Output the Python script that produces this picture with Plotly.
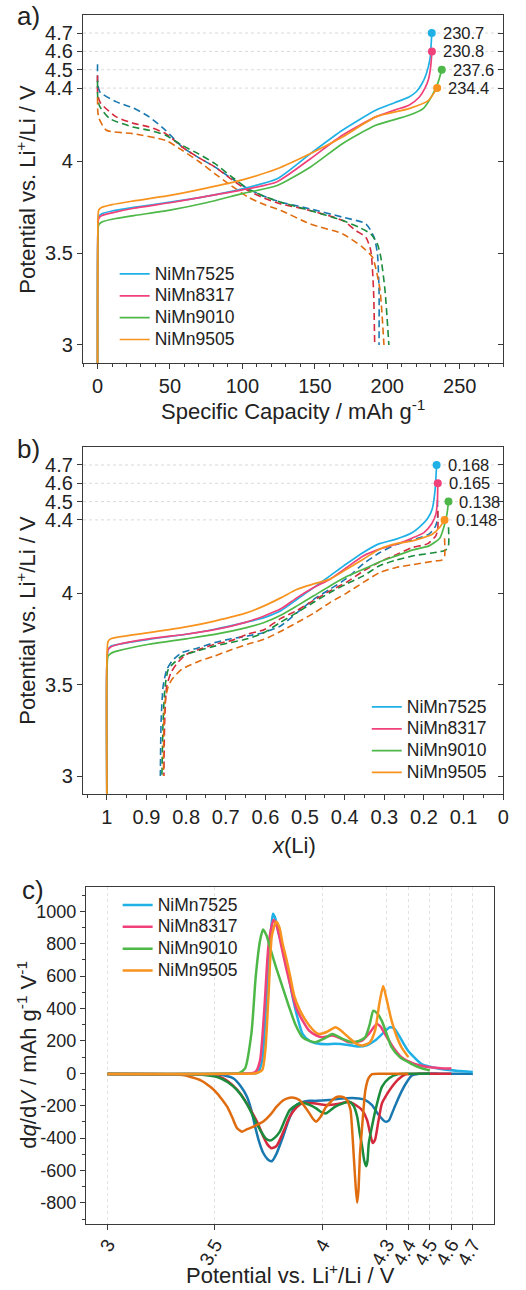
import plotly.graph_objects as go

W, H = 526, 1290
FONT = "Arial, Liberation Sans, sans-serif"

names = ["NiMn7525", "NiMn8317", "NiMn9010", "NiMn9505"]
c_bright = ["#1fb0e6", "#f0417a", "#4db848", "#f7931e"]
c_dark = ["#1a78b0", "#d42a3c", "#1a8c3c", "#e06c10"]

# ---------------- panel a: capacity (mAh/g) vs potential ----------------
cap_end = [230.7, 230.8, 237.6, 234.4]
v_end = [4.7, 4.6, 4.5, 4.4]

a_ch_q = [
    [0, 0.2, 0.8, 3, 10, 25, 50, 75, 100, 124, 147, 169, 192, 205, 215, 220, 224, 227, 229.5, 230.7],
    [0, 0.2, 0.8, 3, 10, 25, 50, 75, 100, 124, 147, 169, 192, 205, 215, 222, 226, 228.5, 230, 230.8],
    [0, 0.2, 0.8, 3, 10, 25, 50, 75, 100, 124, 147, 169, 192, 215, 225, 231, 235, 237.6],
    [0, 0.2, 0.8, 3, 10, 25, 50, 75, 100, 124, 147, 169, 192, 215, 228, 234.4],
]
a_ch_v = [
    [2.9, 3.6, 3.70, 3.715, 3.73, 3.75, 3.778, 3.81, 3.851, 3.906, 4.043, 4.17, 4.279, 4.32, 4.352, 4.38, 4.425, 4.48, 4.56, 4.7],
    [2.9, 3.6, 3.69, 3.705, 3.72, 3.745, 3.775, 3.81, 3.845, 3.89, 4.015, 4.143, 4.243, 4.28, 4.307, 4.35, 4.40, 4.45, 4.52, 4.6],
    [2.9, 3.55, 3.655, 3.67, 3.685, 3.705, 3.735, 3.775, 3.825, 3.869, 3.97, 4.097, 4.197, 4.252, 4.29, 4.36, 4.43, 4.5],
    [2.9, 3.6, 3.735, 3.75, 3.765, 3.785, 3.815, 3.855, 3.9, 3.96, 4.043, 4.133, 4.243, 4.288, 4.33, 4.4],
]
a_dis_q = [
    [0, 0.2, 1.6, 13, 25, 35.7, 47, 58.4, 70, 81.1, 92, 103.9, 115, 126.6, 146.6, 169.3, 185.2, 190.9, 193.2, 194.3, 194.3],
    [0, 0.2, 2.3, 13, 24, 35.7, 47, 58.4, 70, 81.1, 92, 103.9, 115, 126.6, 146.6, 169.3, 178.4, 185.2, 188.6, 190.5, 191.3],
    [0, 0.2, 1.5, 8.4, 24.3, 35.7, 47, 58.4, 70, 81.1, 92, 103.9, 115, 126.6, 146.6, 169.3, 180.6, 188.6, 193.2, 195.5, 198.4, 201.1],
    [0, 0.2, 1, 6.1, 24.3, 47, 58.4, 70, 81.1, 92, 103.9, 115, 126.6, 146.6, 169.3, 183, 189.8, 192, 195, 197.7],
]
a_dis_v = [
    [4.53, 4.42, 4.379, 4.325, 4.29, 4.243, 4.17, 4.079, 4.02, 3.97, 3.91, 3.851, 3.81, 3.778, 3.742, 3.696, 3.66, 3.587, 3.496, 3.3, 3.0],
    [4.47, 4.36, 4.316, 4.243, 4.21, 4.188, 4.152, 4.079, 4.02, 3.97, 3.905, 3.842, 3.80, 3.769, 3.733, 3.678, 3.623, 3.587, 3.514, 3.3, 3.0],
    [4.44, 4.34, 4.30, 4.234, 4.188, 4.17, 4.143, 4.088, 4.04, 3.988, 3.92, 3.851, 3.81, 3.778, 3.733, 3.678, 3.641, 3.605, 3.55, 3.48, 3.3, 3.0],
    [4.35, 4.27, 4.235, 4.17, 4.152, 4.115, 4.061, 4.0, 3.933, 3.87, 3.806, 3.765, 3.733, 3.66, 3.605, 3.532, 3.478, 3.42, 3.3, 3.0],
]

# ---------------- panel b: x(Li) vs potential ----------------
x_end = [0.168, 0.165, 0.138, 0.148]
b_ch_x = [
    [1.0, 1.0, 0.997, 0.99, 0.97, 0.894, 0.80, 0.728, 0.65, 0.603, 0.56, 0.52, 0.478, 0.437, 0.395, 0.353, 0.312, 0.27, 0.23, 0.212, 0.19, 0.179, 0.172, 0.168],
    [1.0, 1.0, 0.997, 0.99, 0.97, 0.894, 0.80, 0.728, 0.65, 0.603, 0.56, 0.52, 0.478, 0.437, 0.395, 0.353, 0.312, 0.27, 0.23, 0.20, 0.18, 0.17, 0.166, 0.165],
    [1.0, 1.0, 0.997, 0.99, 0.97, 0.894, 0.80, 0.728, 0.65, 0.603, 0.56, 0.52, 0.478, 0.437, 0.395, 0.353, 0.312, 0.27, 0.23, 0.187, 0.16, 0.15, 0.142, 0.138],
    [1.0, 1.0, 0.997, 0.99, 0.97, 0.894, 0.80, 0.728, 0.65, 0.603, 0.56, 0.52, 0.478, 0.437, 0.395, 0.353, 0.312, 0.27, 0.229, 0.179, 0.16, 0.148],
]
b_ch_v = [
    [2.9, 3.6, 3.69, 3.71, 3.72, 3.747, 3.775, 3.802, 3.84, 3.866, 3.905, 3.966, 4.03, 4.094, 4.16, 4.222, 4.27, 4.295, 4.33, 4.359, 4.41, 4.46, 4.56, 4.7],
    [2.9, 3.6, 3.69, 3.705, 3.72, 3.75, 3.775, 3.80, 3.84, 3.875, 3.915, 3.975, 4.03, 4.076, 4.14, 4.203, 4.24, 4.267, 4.30, 4.33, 4.38, 4.43, 4.5, 4.6],
    [2.9, 3.55, 3.655, 3.67, 3.685, 3.72, 3.75, 3.774, 3.81, 3.839, 3.88, 3.93, 3.985, 4.039, 4.09, 4.13, 4.17, 4.203, 4.235, 4.258, 4.30, 4.359, 4.43, 4.5],
    [2.9, 3.6, 3.735, 3.75, 3.76, 3.784, 3.815, 3.847, 3.89, 3.93, 3.975, 4.021, 4.05, 4.076, 4.13, 4.185, 4.24, 4.27, 4.285, 4.322, 4.36, 4.4],
]
b_dis_x = [
    [0.166, 0.166, 0.172, 0.187, 0.23, 0.27, 0.312, 0.353, 0.395, 0.437, 0.478, 0.52, 0.562, 0.603, 0.645, 0.686, 0.728, 0.77, 0.811, 0.835, 0.849, 0.858, 0.863, 0.865],
    [0.165, 0.165, 0.17, 0.19, 0.229, 0.27, 0.312, 0.353, 0.395, 0.437, 0.478, 0.52, 0.562, 0.603, 0.645, 0.686, 0.728, 0.77, 0.803, 0.825, 0.838, 0.849, 0.854, 0.856],
    [0.138, 0.138, 0.145, 0.162, 0.229, 0.27, 0.312, 0.353, 0.395, 0.437, 0.478, 0.52, 0.562, 0.603, 0.645, 0.686, 0.728, 0.77, 0.811, 0.83, 0.845, 0.853, 0.858, 0.861],
    [0.148, 0.148, 0.155, 0.17, 0.229, 0.27, 0.312, 0.353, 0.395, 0.437, 0.478, 0.52, 0.562, 0.603, 0.645, 0.686, 0.728, 0.77, 0.811, 0.835, 0.845, 0.852, 0.856, 0.857],
]
b_dis_v = [
    [4.51, 4.40, 4.36, 4.322, 4.29, 4.265, 4.22, 4.16, 4.08, 4.021, 3.966, 3.893, 3.82, 3.785, 3.765, 3.75, 3.729, 3.70, 3.674, 3.63, 3.58, 3.49, 3.3, 3.0],
    [4.45, 4.35, 4.313, 4.27, 4.249, 4.21, 4.17, 4.12, 4.06, 4.012, 3.96, 3.905, 3.86, 3.80, 3.775, 3.74, 3.72, 3.69, 3.66, 3.61, 3.565, 3.49, 3.3, 3.0],
    [4.36, 4.26, 4.235, 4.225, 4.203, 4.18, 4.149, 4.094, 4.05, 4.003, 3.95, 3.893, 3.84, 3.784, 3.75, 3.73, 3.71, 3.685, 3.656, 3.62, 3.583, 3.49, 3.3, 3.0],
    [4.30, 4.2, 4.18, 4.176, 4.155, 4.14, 4.112, 4.058, 4.0, 3.948, 3.89, 3.839, 3.79, 3.747, 3.72, 3.69, 3.656, 3.625, 3.583, 3.53, 3.491, 3.42, 3.3, 3.0],
]

# ---------------- panel c: dq/dV ----------------
c_ch_v = [
    [3.0, 3.3, 3.6, 3.68, 3.70, 3.72, 3.735, 3.75, 3.762, 3.77, 3.78, 3.795, 3.816, 3.84, 3.862, 3.885, 3.908, 3.94, 3.969, 4.02, 4.061, 4.12, 4.168, 4.21, 4.245, 4.28, 4.314, 4.335, 4.352, 4.375, 4.398, 4.43, 4.46, 4.51, 4.567, 4.64, 4.7],
    [3.0, 3.3, 3.6, 3.67, 3.69, 3.71, 3.73, 3.75, 3.773, 3.79, 3.81, 3.831, 3.855, 3.877, 3.91, 3.938, 3.97, 4.0, 4.046, 4.09, 4.122, 4.16, 4.184, 4.22, 4.253, 4.27, 4.291, 4.33, 4.368, 4.42, 4.49, 4.55, 4.6],
    [3.0, 3.3, 3.55, 3.61, 3.64, 3.67, 3.69, 3.71, 3.724, 3.74, 3.76, 3.785, 3.815, 3.846, 3.875, 3.908, 3.94, 3.969, 4.01, 4.046, 4.09, 4.138, 4.17, 4.199, 4.22, 4.237, 4.255, 4.276, 4.3, 4.322, 4.36, 4.414, 4.46, 4.5],
    [3.0, 3.3, 3.6, 3.69, 3.72, 3.735, 3.75, 3.765, 3.785, 3.80, 3.815, 3.831, 3.85, 3.869, 3.895, 3.923, 3.955, 3.984, 4.02, 4.061, 4.09, 4.122, 4.155, 4.184, 4.22, 4.245, 4.265, 4.283, 4.30, 4.322, 4.345, 4.368, 4.4],
]
c_ch_y = [
    [-4, -4, -3, 0, 5, 80, 350, 700, 900, 985, 960, 870, 774, 620, 468, 340, 243, 200, 186, 180, 182, 175, 165, 175, 202, 245, 284, 275, 243, 190, 141, 95, 59, 38, 23, 14, 8],
    [-4, -4, -3, 0, 10, 80, 400, 800, 948, 900, 780, 651, 520, 406, 320, 263, 235, 222, 233, 212, 192, 195, 202, 250, 305, 290, 243, 160, 100, 62, 39, 32, 29],
    [-4, -4, -3, 0, 30, 250, 600, 820, 887, 850, 760, 651, 530, 406, 300, 222, 200, 192, 215, 243, 215, 192, 200, 222, 300, 386, 370, 325, 240, 161, 100, 59, 32, 18],
    [-4, -4, -3, 0, 20, 150, 500, 850, 937, 900, 800, 713, 600, 478, 390, 325, 270, 243, 255, 284, 260, 222, 185, 171, 190, 263, 430, 539, 450, 325, 230, 161, 100],
]
c_dis_v = [
    [3.0, 3.3, 3.45, 3.511, 3.55, 3.587, 3.62, 3.649, 3.67, 3.687, 3.705, 3.725, 3.745, 3.764, 3.785, 3.817, 3.84, 3.863, 3.885, 3.909, 3.94, 3.971, 4.03, 4.093, 4.17, 4.2, 4.231, 4.262, 4.293, 4.31, 4.323, 4.345, 4.369, 4.39, 4.415, 4.45, 4.55, 4.7],
    [3.0, 3.3, 3.434, 3.5, 3.541, 3.58, 3.618, 3.65, 3.679, 3.70, 3.725, 3.745, 3.764, 3.785, 3.802, 3.825, 3.848, 3.88, 3.909, 3.96, 4.017, 4.07, 4.124, 4.16, 4.185, 4.208, 4.222, 4.234, 4.245, 4.26, 4.277, 4.3, 4.323, 4.355, 4.385, 4.45, 4.6],
    [3.0, 3.3, 3.39, 3.45, 3.511, 3.56, 3.603, 3.635, 3.664, 3.69, 3.71, 3.735, 3.756, 3.78, 3.802, 3.825, 3.848, 3.88, 3.909, 3.94, 3.971, 3.995, 4.017, 4.06, 4.124, 4.145, 4.162, 4.175, 4.185, 4.195, 4.204, 4.21, 4.216, 4.232, 4.247, 4.277, 4.31, 4.354, 4.4, 4.5],
    [3.0, 3.3, 3.357, 3.434, 3.48, 3.511, 3.535, 3.557, 3.58, 3.603, 3.626, 3.65, 3.679, 3.70, 3.725, 3.755, 3.787, 3.82, 3.848, 3.872, 3.894, 3.915, 3.94, 3.956, 3.971, 3.985, 4.001, 4.015, 4.032, 4.05, 4.07, 4.09, 4.108, 4.12, 4.131, 4.14, 4.147, 4.155, 4.162, 4.168, 4.175, 4.185, 4.2, 4.215, 4.231, 4.3, 4.4],
]
c_dis_y = [
    [-4, -5, -5, -8, -15, -32, -80, -145, -230, -329, -420, -492, -530, -543, -500, -390, -300, -227, -190, -176, -170, -170, -165, -155, -155, -165, -196, -257, -298, -290, -250, -180, -110, -60, -15, -3, -2, -2],
    [-4, -5, -6, -15, -32, -70, -125, -190, -257, -310, -390, -440, -462, -450, -411, -340, -268, -210, -182, -185, -196, -190, -176, -200, -227, -288, -370, -430, -410, -300, -186, -130, -84, -35, -8, -3, -2],
    [-4, -5, -6, -10, -23, -55, -104, -160, -227, -300, -349, -400, -415, -395, -360, -290, -227, -195, -182, -195, -216, -240, -247, -205, -176, -200, -268, -380, -451, -540, -574, -540, -431, -320, -227, -84, -30, -5, -3, -2],
    [-4, -6, -12, -43, -85, -125, -165, -206, -270, -339, -360, -345, -329, -315, -298, -260, -206, -165, -151, -152, -166, -200, -247, -280, -298, -280, -247, -210, -186, -160, -145, -145, -155, -180, -227, -380, -533, -700, -798, -720, -500, -329, -104, -30, -5, -3, -2],
]

v_ticks = [3, 3.5, 4, 4.4, 4.5, 4.6, 4.7]
v_ticktext = ["3", "3.5", "4", "4.4", "4.5", "4.6", "4.7"]
grid_v = [4.4, 4.5, 4.6, 4.7]
cap_ticks = [0, 50, 100, 150, 200, 250]
xli_ticks = [1, 0.9, 0.8, 0.7, 0.6, 0.5, 0.4, 0.3, 0.2, 0.1, 0]
xli_text = ["1", "0.9", "0.8", "0.7", "0.6", "0.5", "0.4", "0.3", "0.2", "0.1", "0"]
c_xticks = [3, 3.5, 4, 4.3, 4.4, 4.5, 4.6, 4.7]
c_xtext = ["3", "3.5", "4", "4.3", "4.4", "4.5", "4.6", "4.7"]
c_yticks = [-800, -600, -400, -200, 0, 200, 400, 600, 800, 1000]
c_ytext = ["-800", "-600", "-400", "-200", "0", "200", "400", "600", "800", "1000"]

LEG_TXT = 17.5


def leg_name(n):
    return f'<span style="font-size:{LEG_TXT}px">{n}</span>'


fig = go.Figure()
SM = 0.6
DASH = "7px,4px"

for i in range(4):
    fig.add_trace(go.Scatter(x=a_dis_q[i], y=a_dis_v[i], mode="lines", xaxis="x", yaxis="y",
                             line=dict(color=c_dark[i], width=1.6, dash=DASH, shape="spline", smoothing=SM),
                             showlegend=False, hoverinfo="skip"))
for i in range(4):
    fig.add_trace(go.Scatter(x=a_ch_q[i], y=a_ch_v[i], mode="lines", xaxis="x", yaxis="y", name=leg_name(names[i]),
                             line=dict(color=c_bright[i], width=1.7, shape="spline", smoothing=SM),
                             legend="legend"))
fig.add_trace(go.Scatter(x=cap_end, y=v_end, mode="markers", xaxis="x", yaxis="y4",
                         marker=dict(color=c_bright, size=8), showlegend=False))

for i in range(4):
    fig.add_trace(go.Scatter(x=b_dis_x[i], y=b_dis_v[i], mode="lines", xaxis="x2", yaxis="y2",
                             line=dict(color=c_dark[i], width=1.6, dash=DASH, shape="spline", smoothing=SM),
                             showlegend=False, hoverinfo="skip"))
for i in range(4):
    fig.add_trace(go.Scatter(x=b_ch_x[i], y=b_ch_v[i], mode="lines", xaxis="x2", yaxis="y2", name=leg_name(names[i]),
                             line=dict(color=c_bright[i], width=1.7, shape="spline", smoothing=SM),
                             legend="legend2"))
fig.add_trace(go.Scatter(x=x_end, y=v_end, mode="markers", xaxis="x2", yaxis="y5",
                         marker=dict(color=c_bright, size=8), showlegend=False))

for i in range(4):
    fig.add_trace(go.Scatter(x=c_dis_v[i], y=c_dis_y[i], mode="lines", xaxis="x3", yaxis="y3",
                             line=dict(color=c_dark[i], width=2.5, shape="spline", smoothing=SM),
                             showlegend=False, hoverinfo="skip"))
for i in range(4):
    fig.add_trace(go.Scatter(x=c_ch_v[i], y=c_ch_y[i], mode="lines", xaxis="x3", yaxis="y3", name=leg_name(names[i]),
                             line=dict(color=c_bright[i], width=2.5, shape="spline", smoothing=SM),
                             legend="legend3"))

LC = "#3a3a3a"


def px_x(p):
    return p / W


def px_y(p):
    return 1 - p / H


common = dict(showline=True, mirror=True, linecolor=LC, linewidth=1.3, ticks="outside",
              ticklen=5, tickwidth=1.2, tickcolor=LC, showgrid=False, zeroline=False,
              tickfont=dict(size=20, color="#222", family=FONT))

dom_ab_x = [px_x(84), px_x(509)]
dom_a_y = [px_y(363.3), px_y(14.7)]
dom_b_y = [px_y(794.3), px_y(446.7)]
dom_c_x = [px_x(87), px_x(500)]
dom_c_y = [px_y(1224), px_y(887)]

ax_a_y = dict(common, domain=dom_a_y, anchor="x", range=[2.9, 4.8], tickmode="array",
              tickvals=v_ticks, ticktext=v_ticktext)
ax_b_y = dict(common, domain=dom_b_y, anchor="x2", range=[2.9, 4.8], tickmode="array",
              tickvals=v_ticks, ticktext=v_ticktext)

legfont = dict(size=14.5, family=FONT, color="#222")

fig.update_layout(
    width=W, height=H, margin=dict(l=0, r=0, t=0, b=0),
    paper_bgcolor="white", plot_bgcolor="white",
    font=dict(family=FONT, color="#222"),
    xaxis=dict(common, domain=dom_ab_x, anchor="y", range=[-10, 280], tickmode="array",
               tickvals=cap_ticks, minor=dict(dtick=10, tick0=0, ticks="outside", ticklen=3,
                                              tickwidth=1, tickcolor=LC)),
    yaxis=ax_a_y,
    yaxis4=dict(overlaying="y", side="right", anchor="x", range=[2.9, 4.8], tickmode="array",
                tickvals=v_ticks, ticks="inside", ticklen=5, tickwidth=1.2, tickcolor=LC,
                showticklabels=False, showgrid=False, zeroline=False, showline=False),
    xaxis2=dict(common, domain=dom_ab_x, anchor="y2", range=[1.06, 0], tickmode="array",
                tickvals=xli_ticks, ticktext=xli_text,
                minor=dict(dtick=0.05, tick0=0, ticks="outside", ticklen=3, tickwidth=1, tickcolor=LC)),
    yaxis2=ax_b_y,
    yaxis5=dict(overlaying="y2", side="right", anchor="x2", range=[2.9, 4.8], tickmode="array",
                tickvals=v_ticks, ticks="inside", ticklen=5, tickwidth=1.2, tickcolor=LC,
                showticklabels=False, showgrid=False, zeroline=False, showline=False),
    xaxis3=dict(common, domain=dom_c_x, anchor="y3", range=[2.9, 4.8], tickmode="array",
                tickvals=c_xticks, ticktext=c_xtext, tickangle=-60, showgrid=True,
                gridcolor="#e2e2e2", griddash="dot", gridwidth=1, ticklabelstandoff=-4,
                tickfont=dict(size=19, color="#222", family=FONT)),
    yaxis3=dict(common, domain=dom_c_y, anchor="x3", range=[-930, 1150], tickmode="array",
                tickvals=c_yticks, ticktext=c_ytext,
                tickfont=dict(size=18, color="#222", family=FONT),
                minor=dict(dtick=100, tick0=0, ticks="outside", ticklen=3, tickwidth=1, tickcolor=LC)),
    legend=dict(x=px_x(116), y=px_y(258), xanchor="left", yanchor="top", bgcolor="rgba(0,0,0,0)",
                font=legfont, tracegroupgap=0),
    legend2=dict(x=px_x(371), y=px_y(691), xanchor="left", yanchor="top", bgcolor="rgba(0,0,0,0)",
                 font=legfont, tracegroupgap=0),
    legend3=dict(x=px_x(119), y=px_y(889), xanchor="left", yanchor="top", bgcolor="rgba(0,0,0,0)",
                 font=legfont, tracegroupgap=0),
)

shapes = []
for yr in ["y", "y2"]:
    for g in grid_v:
        shapes.append(dict(type="line", xref=("x domain" if yr == "y" else "x2 domain"), x0=0, x1=1,
                           yref=yr, y0=g, y1=g, line=dict(color="#d9d9d9", width=1, dash="dot"),
                           layer="below"))
fig.update_layout(shapes=shapes)

ann = []
for i in range(4):
    ann.append(dict(x=cap_end[i], y=v_end[i], xref="x", yref="y", text=f"{cap_end[i]:.1f}",
                    xanchor="left", yanchor="middle", xshift=9, showarrow=False,
                    font=dict(size=16.5, color="#222", family=FONT)))
    ann.append(dict(x=x_end[i], y=v_end[i], xref="x2", yref="y2", text=f"{x_end[i]:.3f}",
                    xanchor="left", yanchor="middle", xshift=9, showarrow=False,
                    font=dict(size=16.5, color="#222", family=FONT)))


def pa(text, x, y, size=22, angle=0):
    return dict(text=text, x=px_x(x), y=px_y(y), xref="paper", yref="paper", showarrow=False,
                xanchor="center", yanchor="middle", textangle=angle,
                font=dict(size=size, color="#222", family=FONT))


ann += [
    pa("a)", 29, 16, 26), pa("b)", 29, 449, 26), pa("c)", 33, 890, 26),
    pa("Potential vs. Li<sup>+</sup>/Li / V", 26, 189, 22, -90),
    pa("Potential vs. Li<sup>+</sup>/Li / V", 26, 620, 22, -90),
    pa("d<i>q</i>/d<i>V</i> / mAh g<sup>-1</sup> V<sup>-1</sup>", 27, 1055, 22, -90),
    pa("Specific Capacity / mAh g<sup>-1</sup>", 296, 410, 22),
    pa("<i>x</i>(Li)", 297, 845, 22),
    pa("Potential vs. Li<sup>+</sup>/Li / V", 294, 1274, 22),
]
fig.update_layout(annotations=ann)

fig.write_html("out.html")
